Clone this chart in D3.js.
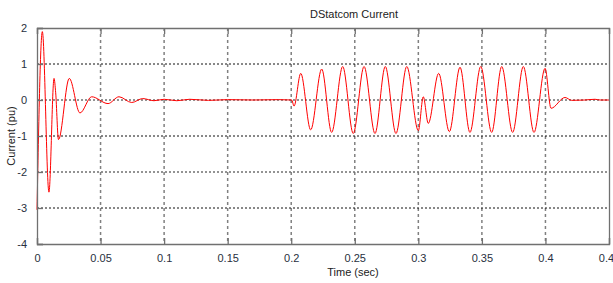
<!DOCTYPE html>
<html>
<head>
<meta charset="utf-8">
<script src="https://cdn.jsdelivr.net/npm/d3@7"></script>
<style>
	body { margin: 0; background: #fff; }
	text { font-family: 'Liberation Sans', Arial, sans-serif; }
</style>
</head>
<body>
<script>
var width = 613
var height = 283

// extrema, seconds / pu
var time = [0, 0.0042, 0.0094, 0.0134, 0.0147, 0.0169, 0.0254, 0.0338, 0.0430, 0.0559, 0.0645, 0.0745, 0.0832, 0.092,
	0.10, 0.11, 0.12, 0.135, 0.15, 0.17, 0.19, 0.2004,
	0.2022, 0.2075, 0.2153, 0.2240, 0.2318, 0.2405, 0.2488, 0.2573, 0.2659, 0.2740, 0.2824, 0.2909, 0.3000,
	0.3039, 0.3078, 0.3160, 0.3244, 0.3328, 0.3406, 0.3491, 0.3577, 0.3656, 0.3742, 0.3826, 0.3910, 0.3997,
	0.4044, 0.4154, 0.4207, 0.431, 0.439, 0.443, 0.45]
var current = [-3.05, 1.9, -2.56, 0.6, 0.2, -1.1, 0.6, -0.36, 0.09, -0.1, 0.09, -0.07, 0.04, -0.02,
	0.02, -0.02, 0.02, -0.01, 0.01, 0, 0.01, 0,
	-0.17, 0.74, -0.83, 0.86, -0.9, 0.93, -0.93, 0.93, -0.93, 0.93, -0.93, 0.93, -0.85,
	0.09, -0.65, 0.74, -0.88, 0.91, -0.9, 0.93, -0.9, 0.93, -0.9, 0.93, -0.9, 0.88,
	-0.23, 0.07, -0.01, 0, 0.02, 0, 0]

var xTicks = [0, 0.05, 0.1, 0.15, 0.2, 0.25, 0.3, 0.35, 0.4, 0.45]
var yTicks = [-4, -3, -2, -1, 0, 1, 2]

var title = 'DStatcom Current'
var xTitle = 'Time (sec)'
var yTitle = 'Current (pu)'

var x = d3.scaleLinear()
    .domain([0, 0.45])
    .range([37, 609])

var y = d3.scaleLinear()
    .domain([-4, 2])
    .range([244, 28])

var svg = d3.select('body').append('svg')
    .attr('width', width)
    .attr('height', height)

// grid
svg.append('g').selectAll('line')
    .data(xTicks.slice(1, -1))
  .enter().append('line')
    .attr('x1', function (d) {return x(d)})
    .attr('x2', function (d) {return x(d)})
    .attr('y1', y(2))
    .attr('y2', y(-4))
    .style('stroke', '#808080')
    .style('stroke-width', 1.5)
    .style('stroke-dasharray', '3,3')

svg.append('g').selectAll('line')
    .data(yTicks.slice(1, -1))
  .enter().append('line')
    .attr('x1', x(0))
    .attr('x2', x(0.45))
    .attr('y1', function (d) {return y(d)})
    .attr('y2', function (d) {return y(d)})
    .style('stroke', function (d) {return d % 2 === 0 ? '#707070' : '#111'})
    .style('stroke-width', function (d) {return d % 2 === 0 ? 1.5 : 1})
    .style('stroke-dasharray', '2,2')

// signal
var pts = time.map(function (t, i) {return [t, current[i]]})

var line = d3.line()
    .x(function (d) {return x(d[0])})
    .y(function (d) {return y(d[1])})
    .curve(d3.curveMonotoneX)

svg.append('path')
    .datum(pts)
    .attr('d', line)
    .style('fill', 'none')
    .style('stroke', '#ff0000')
    .style('stroke-width', 1)

// axes, ticks pointing inward
var axisColor = '#707070'
var fmt = function (d) {return String(d)}

var axBottom = svg.append('g')
    .attr('transform', 'translate(0,' + y(-4) + ')')
    .call(d3.axisBottom(x).tickValues(xTicks).tickSize(-6).tickPadding(10).tickFormat(fmt))
var axTop = svg.append('g')
    .attr('transform', 'translate(0,' + y(2) + ')')
    .call(d3.axisTop(x).tickValues(xTicks).tickSize(-6).tickFormat(''))
var axLeft = svg.append('g')
    .attr('transform', 'translate(' + x(0) + ',0)')
    .call(d3.axisLeft(y).tickValues(yTicks).tickSize(-6).tickPadding(10).tickFormat(fmt))
var axRight = svg.append('g')
    .attr('transform', 'translate(' + x(0.45) + ',0)')
    .call(d3.axisRight(y).tickValues(yTicks).tickSize(0).tickFormat(''))

;[axBottom, axTop, axLeft, axRight].forEach(function (g) {
	g.select('.domain').style('stroke', axisColor).style('stroke-width', 1.3)
	g.selectAll('.tick line').style('stroke', axisColor).style('stroke-width', 1.3)
	g.selectAll('text')
	    .style('font-size', '11px')
	    .style('font-family', "'Liberation Sans', Arial, sans-serif")
	    .style('fill', '#283040')
})

// titles
svg.append('text')
    .attr('x', 354)
    .attr('y', 18)
    .attr('text-anchor', 'middle')
    .style('font-size', '11px')
    .style('fill', '#222')
    .text(title)

svg.append('text')
    .attr('x', 353)
    .attr('y', 276)
    .attr('text-anchor', 'middle')
    .style('font-size', '11px')
    .style('fill', '#222')
    .text(xTitle)

svg.append('text')
    .attr('transform', 'translate(15,136) rotate(-90)')
    .attr('text-anchor', 'middle')
    .style('font-size', '11px')
    .style('fill', '#222')
    .text(yTitle)
</script>
</body>
</html>
